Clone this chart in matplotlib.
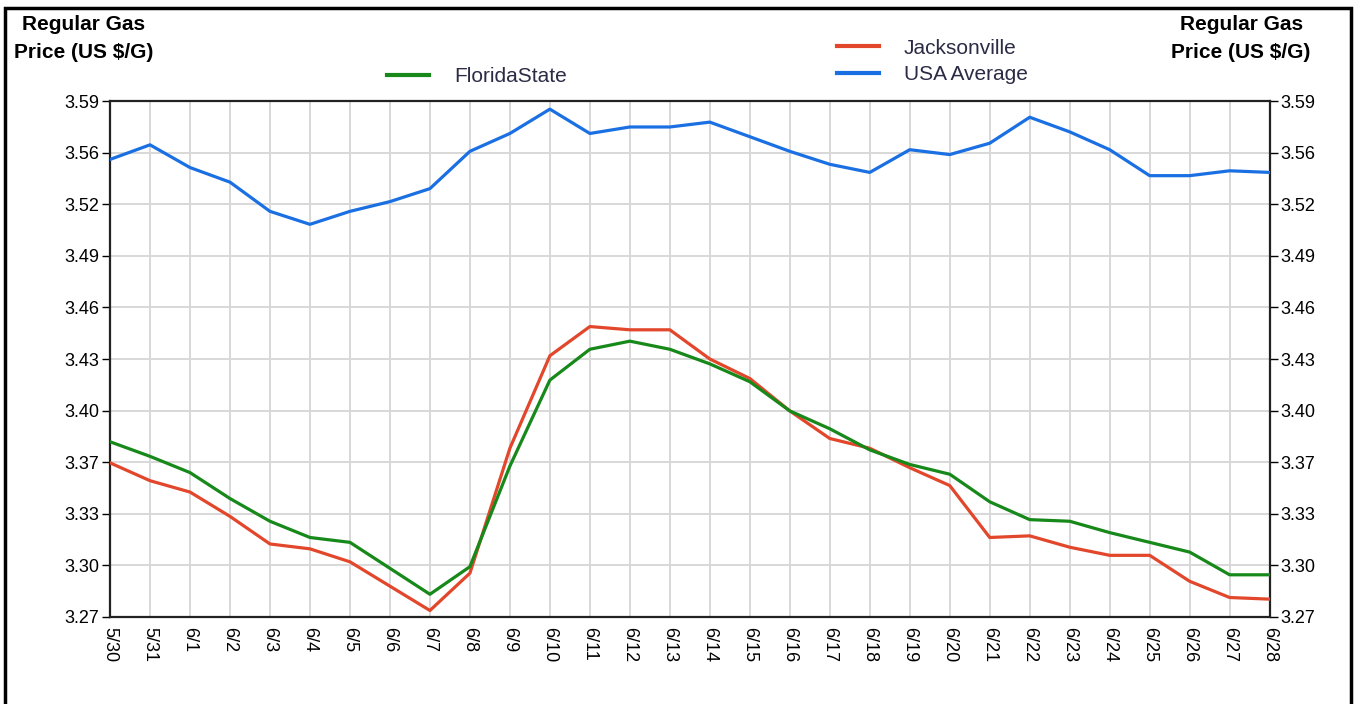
import matplotlib
matplotlib.use("Agg")
import matplotlib.pyplot as plt
from matplotlib.patches import Rectangle
from matplotlib.lines import Line2D

plt.rcParams["font.family"] = ["Liberation Sans Narrow", "Liberation Sans", "DejaVu Sans"]

# dates on the x axis
dates = ["5/30", "5/31", "6/1", "6/2", "6/3", "6/4", "6/5", "6/6", "6/7", "6/8",
         "6/9", "6/10", "6/11", "6/12", "6/13", "6/14", "6/15", "6/16", "6/17", "6/18",
         "6/19", "6/20", "6/21", "6/22", "6/23", "6/24", "6/25", "6/26", "6/27", "6/28"]

usa_avg = [3.552, 3.561, 3.547, 3.538, 3.520, 3.512, 3.520, 3.526, 3.534, 3.557,
           3.568, 3.583, 3.568, 3.572, 3.572, 3.575, 3.566, 3.557, 3.549, 3.544,
           3.558, 3.555, 3.562, 3.578, 3.569, 3.558, 3.542, 3.542, 3.545, 3.544]

jacksonville = [3.365, 3.354, 3.347, 3.332, 3.315, 3.312, 3.304, 3.289, 3.274, 3.297,
                3.374, 3.431, 3.449, 3.447, 3.447, 3.429, 3.417, 3.397, 3.380, 3.374,
                3.362, 3.351, 3.319, 3.320, 3.313, 3.308, 3.308, 3.292, 3.282, 3.281]

florida = [3.378, 3.369, 3.359, 3.343, 3.329, 3.319, 3.316, 3.300, 3.284, 3.301,
           3.363, 3.416, 3.435, 3.440, 3.435, 3.426, 3.415, 3.397, 3.386, 3.373,
           3.364, 3.358, 3.341, 3.330, 3.329, 3.322, 3.316, 3.310, 3.296, 3.296]

y_min, y_max = 3.27, 3.588
y_ticks = [y_min + k * (y_max - y_min) / 10 for k in range(11)]
y_labels = ["3.27", "3.30", "3.33", "3.37", "3.40", "3.43", "3.46", "3.49", "3.52", "3.56", "3.59"]

c_blue = "#1a70e2"
c_red = "#e2472c"
c_green = "#17881a"
c_text = "#2b2b45"

fig = plt.figure(figsize=(13.55, 7.04), dpi=100)
ax = fig.add_axes([0.0812, 0.1236, 0.8558, 0.7329])

x = list(range(len(dates)))
ax.plot(x, usa_avg, color=c_blue, lw=2.3, solid_joinstyle="round", zorder=3)
ax.plot(x, jacksonville, color=c_red, lw=2.3, solid_joinstyle="round", zorder=3)
ax.plot(x, florida, color=c_green, lw=2.3, solid_joinstyle="round", zorder=4)

ax.set_xlim(0, len(dates) - 1)
ax.set_ylim(y_min, y_max)
ax.set_xticks(x)
ax.set_xticklabels(dates, rotation=270, fontsize=13)
ax.set_yticks(y_ticks)
ax.set_yticklabels(y_labels, fontsize=13)
ax.tick_params(axis="y", labelright=True, right=True, length=6, width=1, pad=2)
ax.tick_params(axis="x", length=0, pad=7)
ax.grid(True, color="#d8d8d8", lw=1.4)
ax.set_axisbelow(True)
for s in ax.spines.values():
    s.set_color("#222222")
    s.set_linewidth(1.6)

# axis titles at both sides
fig.text(0.062, 0.978, "Regular Gas\nPrice (US $/G)", ha="center", va="top",
         fontsize=15, fontweight="bold", linespacing=1.55)
fig.text(0.916, 0.978, "Regular Gas\nPrice (US $/G)", ha="center", va="top",
         fontsize=15, fontweight="bold", linespacing=1.55)

# legends
leg1 = fig.legend(handles=[Line2D([], [], color=c_green, lw=3)], labels=["FloridaState"],
                  loc="center left", bbox_to_anchor=(0.272, 0.891), frameon=False,
                  fontsize=15, handlelength=2.0, handletextpad=1.2)
leg2 = fig.legend(handles=[Line2D([], [], color=c_red, lw=3), Line2D([], [], color=c_blue, lw=3)],
                  labels=["Jacksonville", "USA Average"],
                  loc="center left", bbox_to_anchor=(0.604, 0.913), frameon=False,
                  fontsize=15, handlelength=2.0, handletextpad=1.2, labelspacing=0.35)
for leg in (leg1, leg2):
    for t in leg.get_texts():
        t.set_color(c_text)

# outer frame
fig.patches.append(Rectangle((0.004, -0.01), 0.993, 0.998, transform=fig.transFigure,
                             fill=False, edgecolor="black", lw=2.5))

fig.savefig("out.png", dpi=100)
